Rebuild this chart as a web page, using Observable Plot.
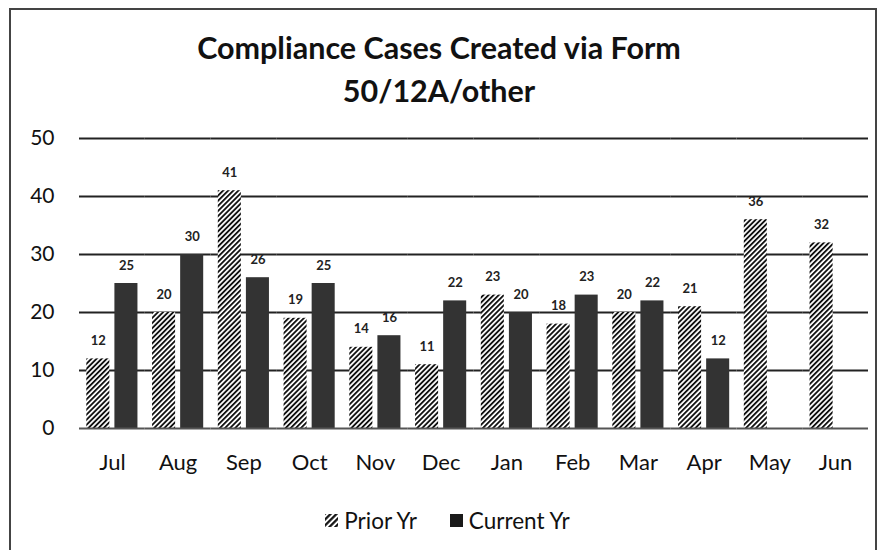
<!DOCTYPE html>
<html>
<head>
<meta charset="utf-8">
<script src="https://cdn.jsdelivr.net/npm/d3@7"></script>
<script src="https://cdn.jsdelivr.net/npm/@observablehq/plot@0.6"></script>
<style>
  html, body { margin: 0; padding: 0; background: #fff; overflow: hidden; }
  body { width: 878px; height: 550px; position: relative; font-family: Lato, "Open Sans", sans-serif; color: #111; }
  #frame { position: absolute; left: 9px; top: 8px; width: 868px; height: 600px; border: 2px solid #444; box-sizing: border-box; }
  #title { position: absolute; left: 0; top: 26px; width: 878px; text-align: center; font-weight: bold; font-size: 30.5px; line-height: 43px; color: #111; }
  #chart { position: absolute; left: 0; top: 118px; }
  #legend { position: absolute; left: 8px; top: 507px; width: 878px; display: flex; justify-content: center; align-items: center; font-size: 22.5px; color: #111; }
  #legend .item { display: flex; align-items: center; }
  #legend .item + .item { margin-left: 32px; }
  #legend svg { margin-right: 5px; }
</style>
</head>
<body>
<div id="frame"></div>
<div id="title">Compliance Cases Created via Form<br>50/12A/other</div>
<div id="chart"></div>
<div id="legend"></div>
<script>
const months = ["Jul", "Aug", "Sep", "Oct", "Nov", "Dec", "Jan", "Feb", "Mar", "Apr", "May", "Jun"];
const seriesNames = ["Prior Yr", "Current Yr"];
const priorYr = [12, 20, 41, 19, 14, 11, 23, 18, 20, 21, 36, 32];
const currentYr = [25, 30, 26, 25, 16, 22, 20, 23, 22, 12, null, null];
const yTicks = [0, 10, 20, 30, 40, 50];

const rows = [];
months.forEach((m, i) => {
  if (priorYr[i] != null) rows.push({month: m, series: seriesNames[0], value: priorYr[i]});
  if (currentYr[i] != null) rows.push({month: m, series: seriesNames[1], value: currentYr[i]});
});

const plot = Plot.plot({
  width: 878,
  height: 360,
  marginLeft: 79,
  marginRight: 10,
  marginTop: 20,
  marginBottom: 50,
  style: {fontFamily: "Lato, 'Open Sans', sans-serif", fontSize: "21px", background: "transparent", color: "#111"},
  fx: {domain: months, padding: 0, round: false, label: null, tickSize: 0, tickPadding: 26},
  x: {domain: seriesNames, axis: null, round: false, paddingInner: 0.18, paddingOuter: 0.26},
  y: {domain: [0, 50], ticks: yTicks, tickSize: 0, tickPadding: 25, label: null},
  marks: [
    Plot.ruleY(yTicks.filter(d => d > 0), {stroke: "#222", strokeWidth: 2}),
    Plot.barY(rows.filter(d => d.series === seriesNames[0]), {fx: "month", x: "series", y: "value", fill: "url(#hatch)"}),
    Plot.barY(rows.filter(d => d.series === seriesNames[1]), {fx: "month", x: "series", y: "value", fill: "#333"}),
    Plot.ruleY([0], {stroke: "#555", strokeWidth: 2}),
    Plot.text(rows, {fx: "month", x: "series", y: "value", text: "value", dy: -18, fontWeight: "bold", fontSize: 13, fill: "#222"})
  ]
});

// month labels slightly larger than y tick labels
d3.select(plot).selectAll("g[aria-label='fx-axis tick label'] text, g[aria-label='fx-axis'] text").style("font-size", "22px");

// hatch pattern definition
const svgSel = d3.select(plot);
const defs = svgSel.insert("defs", ":first-child");
const pat = defs.append("pattern")
  .attr("id", "hatch")
  .attr("patternUnits", "userSpaceOnUse")
  .attr("width", 3.6)
  .attr("height", 3.6)
  .attr("patternTransform", "rotate(45)");
pat.append("rect").attr("width", 3.6).attr("height", 3.6).attr("fill", "#fff");
pat.append("line").attr("x1", 0.9).attr("y1", 0).attr("x2", 0.9).attr("y2", 3.6).attr("stroke", "#111").attr("stroke-width", 1.9);

document.getElementById("chart").appendChild(plot);

// legend
const legend = d3.select("#legend");
seriesNames.forEach((name, i) => {
  const item = legend.append("div").attr("class", "item");
  const sw = item.append("svg").attr("width", 15).attr("height", 15);
  if (i === 0) {
    const d = sw.append("defs").append("pattern")
      .attr("id", "hatchLegend")
      .attr("patternUnits", "userSpaceOnUse")
      .attr("width", 4.2).attr("height", 4.2)
      .attr("patternTransform", "rotate(45)");
    d.append("rect").attr("width", 4.2).attr("height", 4.2).attr("fill", "#fff");
    d.append("line").attr("x1", 1.1).attr("y1", 0).attr("x2", 1.1).attr("y2", 4.2).attr("stroke", "#111").attr("stroke-width", 2.3);
    sw.append("rect").attr("x", 1).attr("y", 1).attr("width", 13).attr("height", 13).attr("fill", "url(#hatchLegend)");
  } else {
    sw.append("rect").attr("x", 1).attr("y", 1).attr("width", 13).attr("height", 13).attr("fill", "#1a1a1a");
  }
  item.append("span").text(name);
});
</script>
</body>
</html>
